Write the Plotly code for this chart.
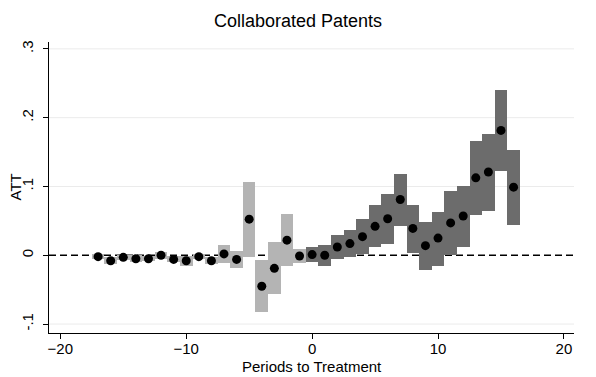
import plotly.graph_objects as go

# Pre-treatment periods (light gray CIs)
pre_periods = [-17, -16, -15, -14, -13, -12, -11, -10, -9, -8, -7, -6, -5, -4, -3, -2, -1]
pre_att = [-0.002, -0.008, -0.003, -0.005, -0.005, 0.000, -0.006, -0.008, -0.002, -0.008,
           0.002, -0.006, 0.0525, -0.045, -0.019, 0.022, -0.001]
pre_lo = [-0.006, -0.012, -0.007, -0.010, -0.009, -0.005, -0.010, -0.016, -0.006, -0.012,
          -0.011, -0.018, -0.002, -0.083, -0.057, -0.016, -0.011]
pre_hi = [0.002, -0.003, 0.001, 0.000, -0.001, 0.005, -0.001, -0.001, 0.002, -0.003,
          0.015, 0.0055, 0.106, -0.007, 0.019, 0.060, 0.009]

# Post-treatment periods (dark gray CIs)
post_periods = [0, 1, 2, 3, 4, 5, 6, 7, 8, 9, 10, 11, 12, 13, 14, 15, 16]
post_att = [0.001, 0.000, 0.012, 0.017, 0.027, 0.042, 0.053, 0.081, 0.039, 0.014,
            0.025, 0.047, 0.057, 0.1125, 0.121, 0.1815, 0.099]
post_lo = [-0.010, -0.015, -0.0055, -0.003, 0.0017, 0.012, 0.0165, 0.042, 0.003, -0.021,
           -0.015, 0.0003, 0.012, 0.058, 0.064, 0.1226, 0.044]
post_hi = [0.0127, 0.015, 0.029, 0.037, 0.053, 0.0727, 0.0885, 0.1187, 0.0737, 0.0487,
           0.063, 0.0928, 0.101, 0.166, 0.177, 0.2406, 0.1537]

y_ticks = [-0.1, 0, 0.1, 0.2, 0.3]
y_tick_labels = ["-.1", "0", ".1", ".2", ".3"]
x_ticks = [-20, -10, 0, 10, 20]
x_tick_labels = ["\u221220", "\u221210", "0", "10", "20"]

LIGHT = "#b4b4b4"
DARK = "#6c6c6c"
FONT = "Liberation Sans, Arial, sans-serif"

fig = go.Figure()
fig.add_trace(go.Bar(
    x=pre_periods, base=pre_lo, y=[h - l for h, l in zip(pre_hi, pre_lo)],
    width=1, marker=dict(color=LIGHT, line=dict(width=0)), showlegend=False))
fig.add_trace(go.Bar(
    x=post_periods, base=post_lo, y=[h - l for h, l in zip(post_hi, post_lo)],
    width=1, marker=dict(color=DARK, line=dict(width=0)), showlegend=False))
fig.add_trace(go.Scatter(
    x=pre_periods + post_periods, y=pre_att + post_att, mode="markers",
    marker=dict(color="black", size=9), showlegend=False))

# light gridlines (not at zero, where the dashed reference line sits)
for yv in y_ticks:
    if yv != 0:
        fig.add_shape(type="line", xref="paper", yref="y", x0=0, x1=1, y0=yv, y1=yv,
                      line=dict(color="#ebebeb", width=1), layer="below")
fig.add_shape(type="line", xref="paper", yref="y", x0=0, x1=1, y0=0, y1=0,
              line=dict(color="black", width=1.5, dash="7px,4px"), layer="below")

# axis titles as annotations for precise placement
fig.add_annotation(text="Periods to Treatment", xref="paper", yref="paper",
                   x=0.5, y=0, yshift=-33, xanchor="center", yanchor="middle",
                   showarrow=False, font=dict(size=15, color="black"))
fig.add_annotation(text="ATT", xref="paper", yref="paper", textangle=-90,
                   x=0, y=0.5, xshift=-34, xanchor="center", yanchor="middle",
                   showarrow=False, font=dict(size=15, color="black"))

# the page body has an 8px default margin, so margins are offset by 8px
fig.update_layout(
    width=596, height=377,
    margin=dict(l=41, r=30, t=34, b=52),
    paper_bgcolor="white", plot_bgcolor="white",
    barmode="overlay", bargap=0,
    font=dict(family=FONT, color="black", size=15),
    title=dict(text="Collaborated Patents", x=0.4866, xanchor="center", y=0.966,
               yanchor="middle", font=dict(size=18, family=FONT, color="black")),
    xaxis=dict(range=[-20.9, 20.8], tickvals=x_ticks, ticktext=x_tick_labels,
               showgrid=False, zeroline=False, showline=True, linecolor="black",
               linewidth=1, ticks="outside", ticklen=5, tickcolor="black",
               ticklabelstandoff=-3, automargin=False, tickfont=dict(size=15)),
    yaxis=dict(range=[-0.113, 0.31], tickvals=y_ticks, ticktext=y_tick_labels,
               tickangle=-90, showgrid=False,
               zeroline=False, showline=True, linecolor="black", linewidth=1,
               ticks="outside", ticklen=5, tickcolor="black", tickfont=dict(size=15),
               ticklabelstandoff=4, automargin=False),
)

fig.write_html("out.html")
